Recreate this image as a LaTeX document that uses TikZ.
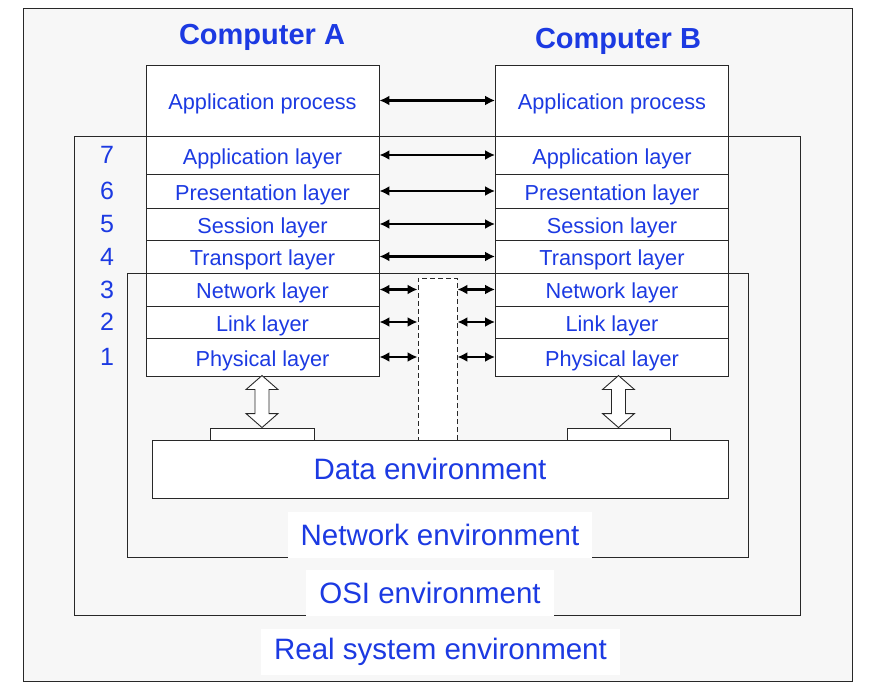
\documentclass[tikz,border=0pt]{standalone}
\usepackage{fontspec}
\setmainfont{Liberation Sans}
\usetikzlibrary{arrows.meta,positioning}
\definecolor{osiblue}{RGB}{28,58,226}
\definecolor{envgray}{RGB}{247,247,247}
\definecolor{edgegray}{RGB}{40,40,40}
\tikzset{
  envbox/.style={draw=edgegray, line width=0.9pt},
  layerbox/.style={draw=edgegray, fill=white, line width=0.9pt, minimum width=233pt,
    inner sep=0pt, text=osiblue, text height=21pt, text depth=2pt, font=\fontsize{21.7}{24}\selectfont},
  envlabel/.style={fill=white, inner xsep=13pt, inner ysep=0pt, minimum height=46pt,
    text=osiblue, font=\fontsize{29.5}{34}\selectfont},
  laynum/.style={text=osiblue, font=\fontsize{25}{28}\selectfont},
  title/.style={text=osiblue, font=\fontsize{29}{32}\selectfont\bfseries},
  peer/.style={{Latex[length=10pt,width=10pt]}-{Latex[length=10pt,width=10pt]}, line width=2.1pt},
  pad/.style={draw=edgegray, fill=white, line width=0.9pt, inner sep=0pt, minimum height=12pt},
  hollow/.style={draw=edgegray, fill=white, line width=0.9pt},
}
\begin{document}
\begin{tikzpicture}[x=1pt,y=-1pt]
  \useasboundingbox (0,0) rectangle (870,684);
  % environments
  \draw[envbox, fill=envgray] (23,8) rectangle (852,681);
  \draw[envbox] (74,136) rectangle (800,615);
  \draw[envbox] (127,273) rectangle (748,557);

  \node[title] (compa) at (262,37) {Computer A};
  \node[title] (compb) at (618,41) {Computer B};

  \node[layerbox, minimum height=71pt] (aproc) at (262.5,100.5) {Application process};
  \node[layerbox, minimum height=71pt] (bproc) at (612,100.5) {Application process};

  % layer stacks
  \foreach \n/\lname/\ytop/\ybot in {7/Application/136/174, 6/Presentation/174/208,
      5/Session/208/240, 4/Transport/240/273, 3/Network/273/306, 2/Link/306/338,
      1/Physical/338/376} {
    \node[layerbox, minimum height={\ybot-\ytop}] (a\n) at (262.5,{(\ytop+\ybot)/2}) {\lname\ layer};
    \node[layerbox, minimum height={\ybot-\ytop}] (b\n) at (612,{(\ytop+\ybot)/2}) {\lname\ layer};
    \node[laynum] (num\n) at (107,{(\ytop+\ybot)/2}) {\n};
  }

  % relay in the network
  \node[draw=edgegray, dash pattern=on 5pt off 3pt, fill=white, line width=0.9pt, minimum width=39pt,
    minimum height=163pt, inner sep=0pt] (relay) at (437.5,359.5) {};

  \node[draw=edgegray, fill=white, line width=0.9pt, minimum width=576pt, minimum height=58pt,
    inner sep=0pt, text=osiblue, font=\fontsize{29.5}{34}\selectfont] (data) at (440,469) {Data environment\hspace*{20pt}};
  \node[pad, minimum width=104pt] (apad) at (262,434) {};
  \node[pad, minimum width=103pt] (bpad) at (618.5,434) {};

  % peer arrows
  \draw[peer] (aproc) -- (bproc);
  \foreach \n in {7,6,5,4}
    \draw[peer] (a\n) -- (b\n);
  \foreach \n in {3,2,1} {
    \draw[peer] (a\n.east) -- (relay.west |- a\n.east);
    \draw[peer] (relay.east |- b\n.west) -- (b\n.west);
  }

  % hollow arrows down to the medium
  \foreach \s in {apad,bpad} {
    \begin{scope}[shift={(\s.north)}]
      \draw[hollow] (0,0) -- (-16,-14) -- (-7,-14) -- (-7,-38) -- (-16,-38) -- (0,-52)
        -- (16,-38) -- (7,-38) -- (7,-14) -- (16,-14) -- cycle;
    \end{scope}
  }

  \node[envlabel] (netlabel) at (440,535) {Network environment};
  \node[envlabel] (osilabel) at (430,593) {OSI environment};
  \node[envlabel] (reallabel) at (440.5,652) {Real system environment};
\end{tikzpicture}
\end{document}
